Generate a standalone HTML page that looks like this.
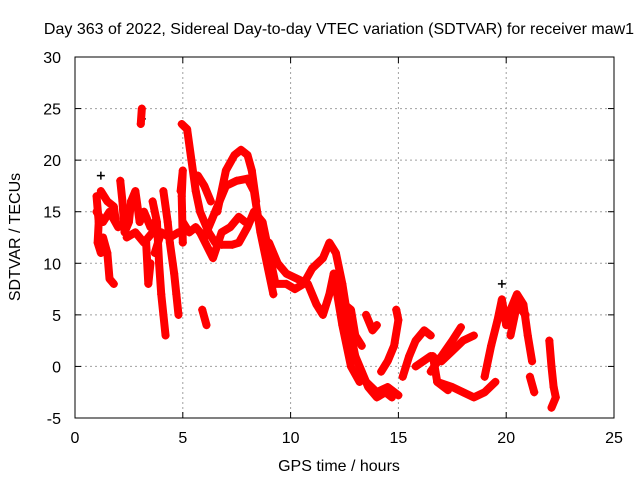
<!DOCTYPE html>
<html><head><meta charset="utf-8"><style>
body{margin:0;background:#fff;}
svg text{font-family:"Liberation Sans",sans-serif;font-size:16px;fill:#000;}
</style></head><body>
<svg id="chart" width="640" height="480" xmlns="http://www.w3.org/2000/svg">
<rect width="640" height="480" fill="#fff"/>
<text x="339" y="34" text-anchor="middle">Day 363 of 2022, Sidereal Day-to-day VTEC variation (SDTVAR) for receiver maw1</text>
<text x="339" y="471" text-anchor="middle">GPS time / hours</text>
<text transform="translate(20,237) rotate(-90)" text-anchor="middle">SDTVAR / TECUs</text>
<g id="grid"></g><g id="marks"></g><g id="axes"></g>
</svg>
<script>
const xTicks=[0,5,10,15,20,25];
const yTicks=[-5,0,5,10,15,20,25,30];
const tracks=[
[[1.0,16.5],[1.1,14],[1.05,12],[1.2,11],[1.3,12.5],[1.5,11],[1.6,8.5],[1.8,8]],
[[1.2,17],[1.5,16],[1.8,15.5],[1.9,14]],
[[1.0,15],[1.3,14],[1.6,15],[2.0,13.5]],
[[2.1,18],[2.2,16],[2.3,13],[2.5,14],[2.6,16]],
[[2.6,16],[2.8,17],[3.0,14],[3.2,15],[3.5,13.5],[3.7,14]],
[[2.4,12.5],[2.8,13],[3.2,12],[3.6,13]],
[[3.1,25],[3.05,23.5]],
[[3.3,12],[3.4,8],[3.5,10]],
[[3.6,16],[3.8,14],[3.9,10],[4.0,7],[4.1,5],[4.2,3]],
[[3.7,11],[4.0,13],[4.4,12.5],[4.8,13]],
[[4.1,17],[4.3,14],[4.4,12],[4.6,9],[4.7,7],[4.8,5]],
[[4.9,17],[5.0,19],[4.95,16.5],[5.0,12]],
[[4.95,23.5],[5.2,23],[5.4,20],[5.6,17],[5.8,15],[6.2,13],[6.5,12],[6.8,11.8],[7.3,11.8],[7.6,12],[8.0,13.5],[8.3,15],[8.7,14],[9.0,11],[9.3,8],[9.8,8],[10.2,7.5],[10.6,8],[11.0,9.5],[11.5,10.5],[11.8,12],[12.1,11],[12.4,8],[12.7,4],[13.0,1],[13.3,-0.5],[13.6,-2],[14.0,-3],[14.4,-2.5],[14.7,-3]],
[[5.0,14],[5.3,13],[5.6,13.5],[6.0,12.5],[6.3,14],[6.7,16],[7.0,17.5],[7.5,18],[8.0,18.2],[8.3,17],[8.6,13],[8.9,10],[9.2,7]],
[[6.6,15],[7.0,19],[7.4,20.5],[7.7,21],[8.0,20.5],[8.2,19],[8.4,16]],
[[5.8,13],[6.4,10.5],[6.8,13],[7.2,13.5],[7.6,14.5],[7.9,14]],
[[5.9,5.5],[6.1,4]],
[[5.7,18.5],[6.0,17.5],[6.3,16]],
[[9.0,12],[9.4,10],[9.8,9],[10.3,8.5],[10.8,8],[11.2,6],[11.5,5],[11.8,7],[12.0,9],[12.4,4],[12.8,0],[13.2,-1.5]],
[[12.5,6],[12.8,5.5],[13.0,3],[13.3,2]],
[[13.5,5],[13.8,3.5],[14.0,4]],
[[13.5,-1.5],[14.0,-2.5],[14.5,-2],[15.0,-2.8]],
[[14.2,-0.5],[14.5,0.5],[14.8,2],[15.0,4.5],[14.9,5.5]],
[[15.2,-1],[15.5,1],[15.8,2.5],[16.2,3.5],[16.5,3]],
[[15.8,0],[16.5,1],[17.0,0.5],[17.5,1.5],[18.0,2.5],[18.5,3]],
[[16.5,-0.5],[17.0,1],[17.5,2.5],[17.9,3.8]],
[[16.8,-1.5],[17.5,-2],[18.0,-2.5],[18.5,-3],[19.0,-2.5],[19.5,-1.5]],
[[16.6,1],[16.8,-1.5],[17.3,-2.3]],
[[19.0,-1],[19.3,2],[19.6,4.5],[19.8,6.5],[20.0,4],[20.2,5.5],[20.5,7],[20.8,6],[21.0,3],[21.2,0.5]],
[[20.2,3],[20.5,6],[20.9,5]],
[[21.1,-1],[21.3,-2.5]],
[[22.0,2.5],[22.1,0],[22.2,-2],[22.3,-3],[22.1,-4]]
];
const blackPts=[[1.2,18.5],[3.1,24],[19.8,8]];
const L=75,R=614,T=57,B=418;
const sx=h=>L+(h-0)/(25-0)*(R-L);
const sy=v=>B-(v+5)/(30+5)*(B-T);
const NS="http://www.w3.org/2000/svg";
function mk(tag,parent,attrs){const e=document.createElementNS(NS,tag);for(const k in attrs)e.setAttribute(k,attrs[k]);parent.appendChild(e);return e;}
const grid=document.getElementById('grid'),marks=document.getElementById('marks'),axes=document.getElementById('axes');
xTicks.forEach(t=>{const x=sx(t);
 if(t>0&&t<25){const g=mk('line',grid,{x1:x,x2:x,y1:T,y2:B,stroke:'#a0a0a0','stroke-dasharray':'2,3'});}
 mk('line',axes,{x1:x,x2:x,y1:B,y2:B-6,stroke:'#000'});mk('line',axes,{x1:x,x2:x,y1:T,y2:T+6,stroke:'#000'});
 const tx=mk('text',axes,{x:x,y:443,'text-anchor':'middle'});tx.textContent=t;
 });
yTicks.forEach(t=>{const y=sy(t);
 if(t>-5&&t<30){const g=mk('line',grid,{x1:L,x2:R,y1:y,y2:y,stroke:'#a0a0a0','stroke-dasharray':'2,3'});}
 mk('line',axes,{x1:L,x2:L+6,y1:y,y2:y,stroke:'#000'});mk('line',axes,{x1:R,x2:R-6,y1:y,y2:y,stroke:'#000'});
 const tx=mk('text',axes,{x:61,y:y+6,'text-anchor':'end'});tx.textContent=t;
 });
const fr=mk('rect',axes,{x:L,y:T,width:R-L,height:B-T,fill:'none',stroke:'#000'});

function plus(p,x,y,c){mk('path',p,{d:`M${x-4},${y}h8M${x},${y-4}v8`,stroke:c,'stroke-width':1.5});}
blackPts.forEach(p=>{const g=mk('g',marks,{});plus(g,sx(p[0]),sy(p[1]),'#000');});
tracks.forEach(tr=>{const g=mk('g',marks,{});
 
 
 mk('polyline',g,{points:tr.map(p=>sx(p[0])+','+sy(p[1])).join(' '),fill:'none',stroke:'#f00','stroke-width':8,'stroke-linejoin':'round','stroke-linecap':'round'});
 tr.forEach(p=>plus(g,sx(p[0]),sy(p[1]),'#f00'));});
</script>
</body></html>
